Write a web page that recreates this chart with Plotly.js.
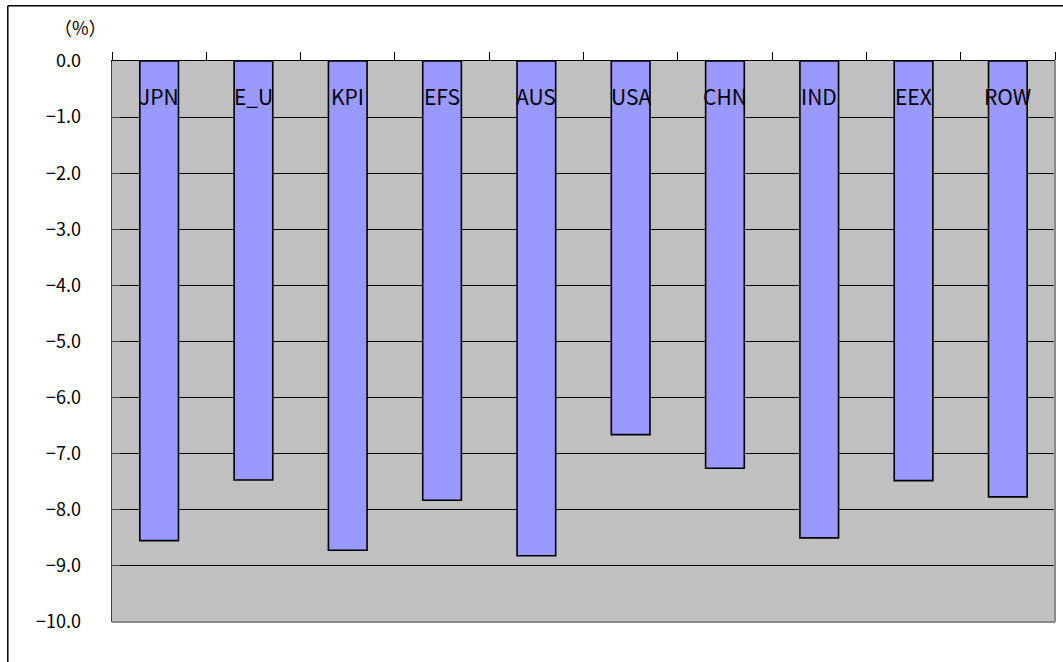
<!DOCTYPE html>
<html>
<head>
<meta charset="utf-8">
<script src="https://cdn.plot.ly/plotly-3.0.1.min.js"></script>
<style>html,body{margin:0;padding:0;background:#fff;}#chart{width:1063px;height:662px;}</style>
</head>
<body>
<div id="chart"></div>
<script>
var categories = ["JPN", "E_U", "KPI", "EFS", "AUS", "USA", "CHN", "IND", "EEX", "ROW"];
var values = [-8.55, -7.47, -8.72, -7.83, -8.82, -6.66, -7.26, -8.50, -7.48, -7.77];
var yTicks = [0, -1, -2, -3, -4, -5, -6, -7, -8, -9, -10];
var unitLabel = "（%）";

var idx = categories.map(function (c, i) { return i; });
var boundaries = [];
for (var i = 0; i <= categories.length; i++) boundaries.push(i - 0.5);

var trace = {
  type: "bar",
  x: idx,
  y: values,
  width: 0.41,
  marker: { color: "#9999FF", line: { color: "#000000", width: 1.6 } },
  hoverinfo: "skip"
};

var annotations = categories.map(function (c, i) {
  return {
    x: i, y: -0.62, xref: "x", yref: "y",
    text: c, showarrow: false, xanchor: "center", yanchor: "middle",
    font: { family: "Noto Sans CJK JP, Noto Sans, sans-serif", size: 21, color: "#000" }
  };
});
annotations.push({
  x: -0.0035, y: 1.061, xref: "paper", yref: "paper",
  text: unitLabel, showarrow: false, xanchor: "right", yanchor: "middle",
  font: { family: "Noto Sans CJK JP, sans-serif", size: 18, color: "#000" }
});

var layout = {
  width: 1063, height: 662,
  margin: { l: 112, r: 8, t: 61, b: 40 },
  paper_bgcolor: "#ffffff",
  plot_bgcolor: "#C0C0C0",
  showlegend: false,
  font: { family: "Noto Sans CJK JP, sans-serif", color: "#000" },
  xaxis: {
    range: [-0.5, categories.length - 0.5],
    side: "top",
    tickmode: "array",
    tickvals: boundaries,
    showticklabels: false,
    ticks: "outside", ticklen: 8, tickcolor: "#000", tickwidth: 1,
    showline: true, linecolor: "#000", linewidth: 1,
    showgrid: false, zeroline: false, fixedrange: true
  },
  yaxis: {
    range: [-10, 0],
    tickmode: "array",
    tickvals: yTicks,
    tickformat: ".1f",
    ticks: "inside", ticklen: 8, tickcolor: "#404040",
    ticklabelstandoff: 26,
    tickfont: { family: "Noto Sans CJK JP, sans-serif", size: 18, color: "#000" },
    showline: true, linecolor: "#404040", linewidth: 1.5,
    showgrid: true, gridcolor: "#000000", gridwidth: 1,
    zeroline: false, fixedrange: true
  },
  shapes: [
    { type: "line", xref: "paper", yref: "paper", x0: 0, x1: 1, y0: 0, y1: 0, line: { color: "#8a8a8a", width: 2 } },
    { type: "line", xref: "paper", yref: "paper", x0: 1, x1: 1, y0: 0, y1: 1, line: { color: "#8a8a8a", width: 2 } },
    { type: "line", xref: "paper", yref: "paper", x0: -0.1105, x1: 1.2, y0: 1.0985, y1: 1.0985, line: { color: "#000", width: 1.5 } },
    { type: "line", xref: "paper", yref: "paper", x0: -0.1105, x1: -0.1105, y0: -0.2, y1: 1.0985, line: { color: "#000", width: 1.5 } }
  ],
  annotations: annotations,
  bargap: 0.59
};

Plotly.newPlot("chart", [trace], layout, { staticPlot: true, displayModeBar: false });
</script>
</body>
</html>
